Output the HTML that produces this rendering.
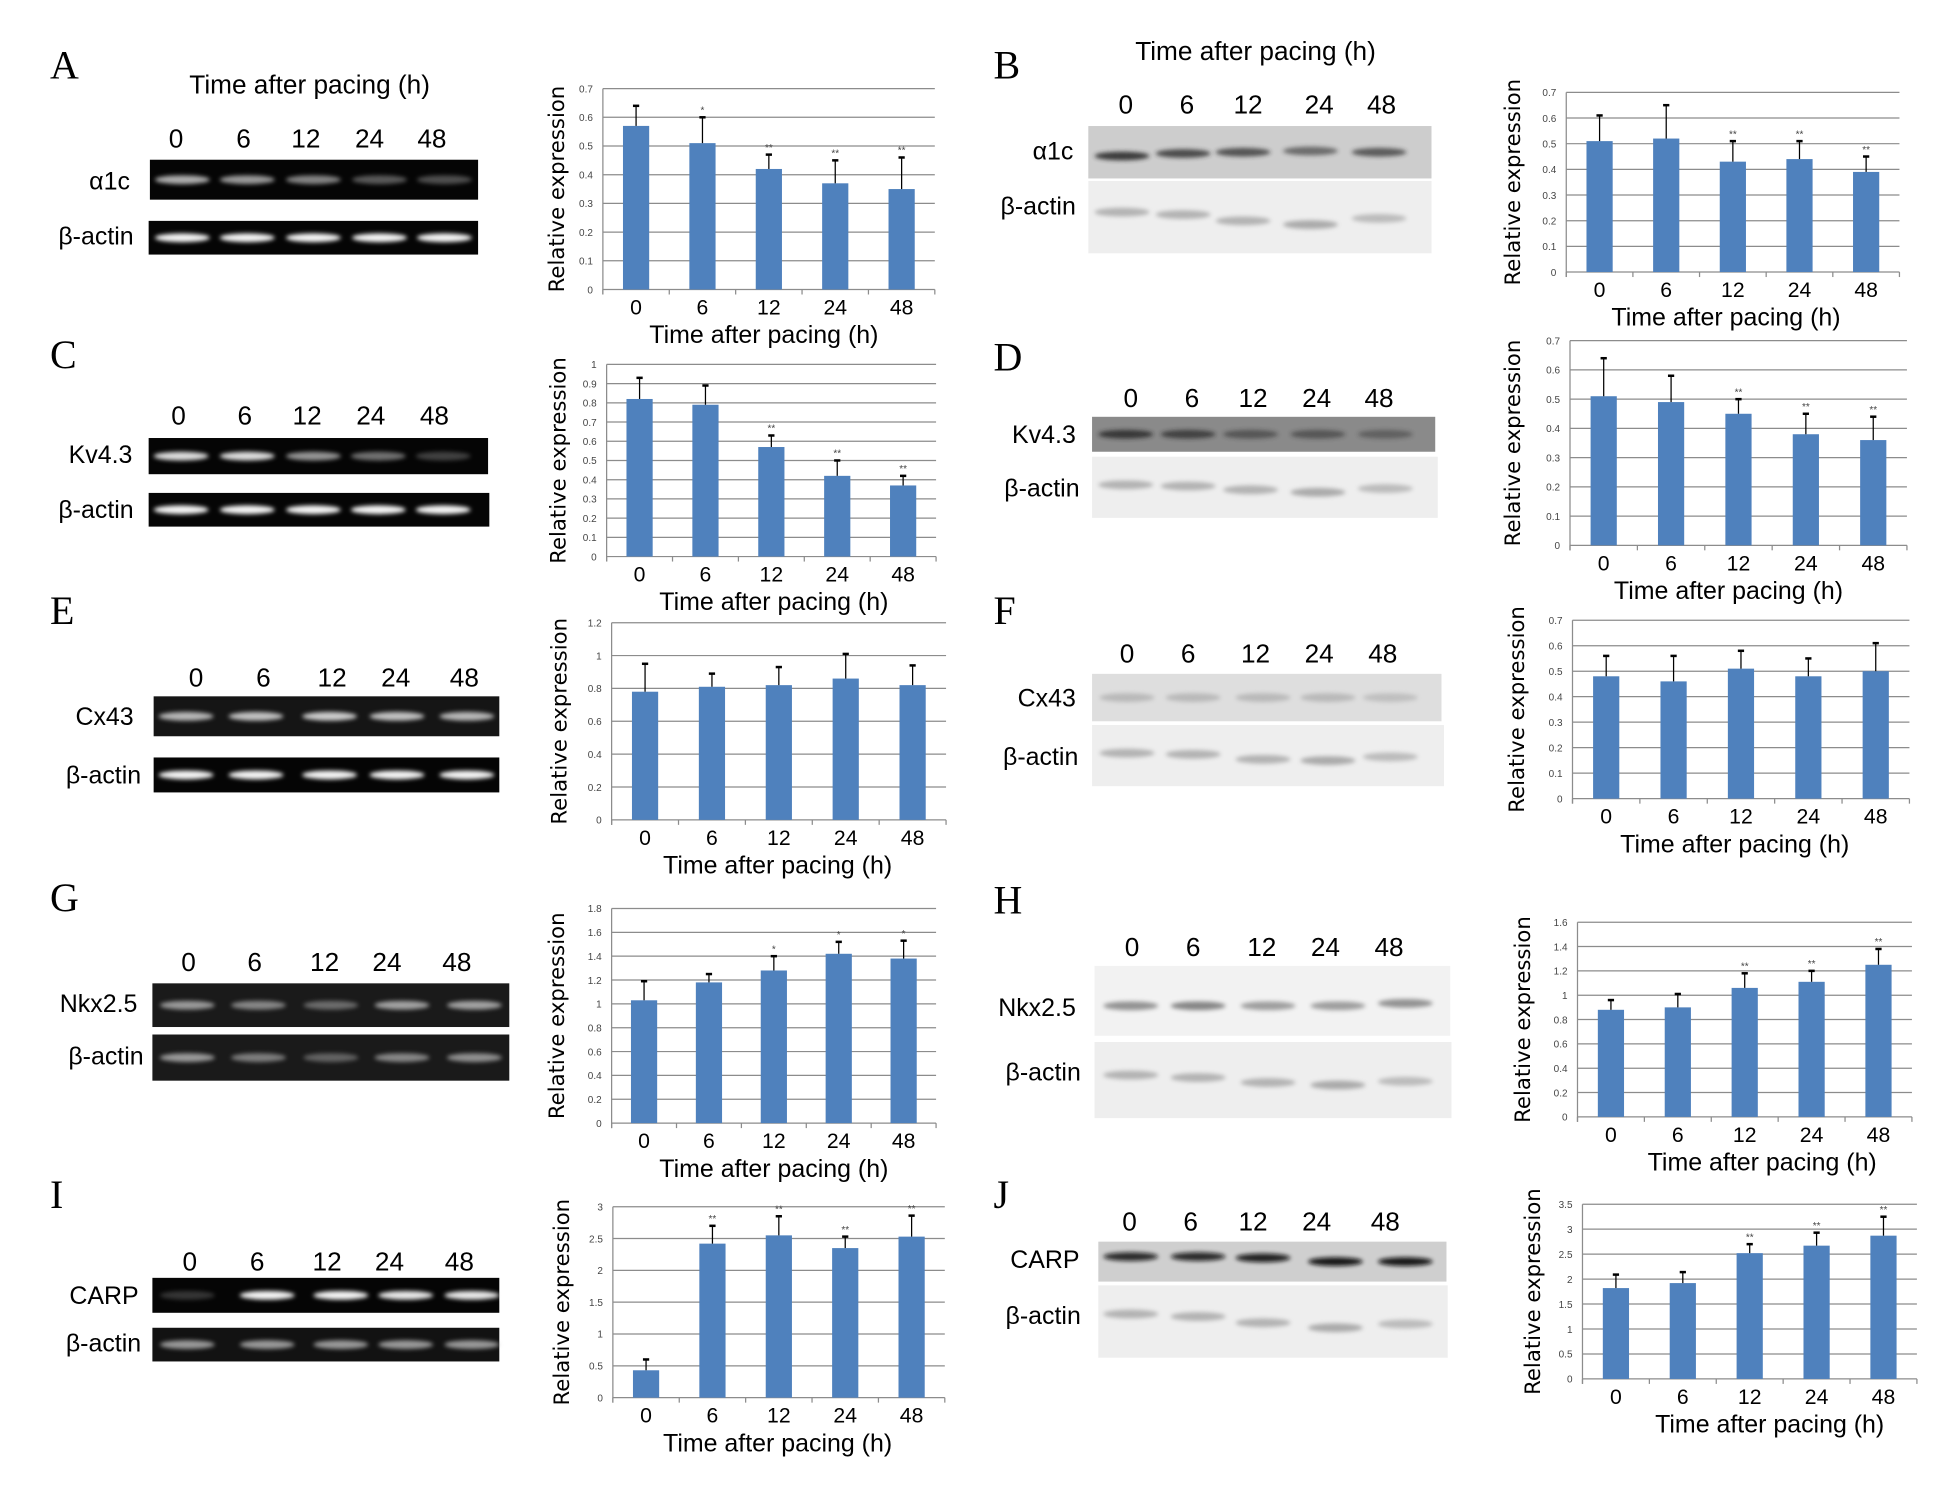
<!DOCTYPE html>
<html><head><meta charset="utf-8">
<style>
html,body{margin:0;padding:0;background:#fff;}
svg{display:block;}
.lbl{font-family:"Liberation Sans Narrow","Liberation Sans",sans-serif;fill:#000;}
.let{font-family:"Liberation Serif",serif;fill:#000;}
.tick{font-family:"Liberation Sans Narrow","Liberation Sans",sans-serif;fill:#444;font-size:8px;}
.yt{font-family:"DejaVu Sans","Liberation Sans",sans-serif;fill:#000;font-size:17px;}
</style></head>
<body>
<svg id="fig" width="1957" height="1485" viewBox="0 0 1568 1190" xmlns="http://www.w3.org/2000/svg">
<defs><filter id="blur" x="-20%" y="-50%" width="140%" height="200%"><feGaussianBlur stdDeviation="1.6"/></filter></defs>
</svg>
<script>
// ---- chart data ----
const categories = ["0","6","12","24","48"];
const valsA = [0.57,0.51,0.42,0.37,0.35];
const errA  = [0.07,0.09,0.05,0.08,0.11];
const starA = ["","*","**","**","**"];
const valsB = [0.51,0.52,0.43,0.44,0.39];
const errB  = [0.10,0.13,0.08,0.07,0.06];
const starB = ["","","**","**","**"];
const valsC = [0.82,0.79,0.57,0.42,0.37];
const errC  = [0.11,0.10,0.06,0.08,0.05];
const starC = ["","","**","**","**"];
const valsD = [0.51,0.49,0.45,0.38,0.36];
const errD  = [0.13,0.09,0.05,0.07,0.08];
const starD = ["","","**","**","**"];
const valsE = [0.78,0.81,0.82,0.86,0.82];
const errE  = [0.17,0.08,0.11,0.15,0.12];
const starE = ["","","","",""];
const valsF = [0.48,0.46,0.51,0.48,0.50];
const errF  = [0.08,0.10,0.07,0.07,0.11];
const starF = ["","","","",""];
const valsG = [1.03,1.18,1.28,1.42,1.38];
const errG  = [0.16,0.07,0.12,0.10,0.15];
const starG = ["","","*","*","*"];
const valsH = [0.88,0.90,1.06,1.11,1.25];
const errH  = [0.08,0.11,0.12,0.09,0.13];
const starH = ["","","**","**","**"];
const valsI = [0.43,2.42,2.55,2.35,2.53];
const errI  = [0.17,0.28,0.30,0.18,0.33];
const starI = ["","**","**","**","**"];
const valsJ = [1.82,1.92,2.52,2.67,2.87];
const errJ  = [0.27,0.22,0.18,0.26,0.38];
const starJ = ["","","**","**","**"];
const ticks07 = ["0","0.1","0.2","0.3","0.4","0.5","0.6","0.7"];
const ticks10 = ["0","0.1","0.2","0.3","0.4","0.5","0.6","0.7","0.8","0.9","1"];
const ticks12 = ["0","0.2","0.4","0.6","0.8","1","1.2"];
const ticks18 = ["0","0.2","0.4","0.6","0.8","1","1.2","1.4","1.6","1.8"];
const ticks16 = ["0","0.2","0.4","0.6","0.8","1","1.2","1.4","1.6"];
const ticks30 = ["0","0.5","1","1.5","2","2.5","3"];
const ticks35 = ["0","0.5","1","1.5","2","2.5","3","3.5"];

const NS="http://www.w3.org/2000/svg";
const svg=document.getElementById('fig');
function mk(tag,attrs,parent){const e=document.createElementNS(NS,tag);for(const k in attrs)e.setAttribute(k,attrs[k]);(parent||svg).appendChild(e);return e;}
function txt(s,x,y,cls,size,anchor,parent){const t=mk('text',{x:x,y:y,'class':cls,'font-size':size,'text-anchor':anchor||'middle'},parent);t.textContent=s;return t;}

function chart(id,cfg,vals,errs,stars,ticks){
  const g=mk('g',{});
  
  
  const x0=cfg.x0,x1=cfg.x1,top=cfg.top,bot=cfg.bot;
  const vmax=parseFloat(ticks[ticks.length-1]);
  const yS=v=>bot-(v/vmax)*(bot-top);
  const n=categories.length, bw=(x1-x0)/n;
  const xS=i=>x0+bw*(i+0.5)+(cfg.dx||0);
  ticks.forEach(t=>{
    const y=yS(parseFloat(t));
    const l=mk('line',{x1:x0,x2:x1,y1:y,y2:y,stroke:'#8c8c8c','stroke-width':1},g);
    
    
    const tl=txt(t,x0-8,y+3,'tick',8.5,'end',g);
    
    
  });
  mk('line',{x1:x0,x2:x0,y1:top,y2:bot+4,stroke:'#8c8c8c'},g);
  for(let i=0;i<=n;i++){mk('line',{x1:x0+bw*i,x2:x0+bw*i,y1:bot,y2:bot+4,stroke:'#8c8c8c'},g);}
  vals.forEach((v,i)=>{
    const cx=xS(i), w=cfg.bw||21;
    const r=mk('rect',{x:cx-w/2,y:yS(v),width:w,height:bot-yS(v),fill:'#4f81bd'},g);
    
    
    const ye=yS(v+errs[i]);
    const el=mk('line',{x1:cx,x2:cx,y1:yS(v),y2:ye,stroke:'#000','stroke-width':1},g);
    
    
    mk('line',{x1:cx-2.5,x2:cx+2.5,y1:ye,y2:ye,stroke:'#000','stroke-width':2},g);
    if(stars[i]){const s=txt(stars[i],cx,ye-3,'tick',9,'middle',g);
      
      }
    const xl=txt(categories[i],cx,bot+20,'lbl',17,'middle',g);
    
    
  });
  const xt=txt('Time after pacing (h)',cfg.tx,bot+43,'lbl',20,'middle',g);
  
  
  const yt=txt('Relative expression',0,0,'yt',17,'middle',g);
  yt.setAttribute('transform','translate('+cfg.yx+','+((top+bot)/2)+') rotate(-90)');
  
  
}

chart('A',{x0:483,x1:749,top:71,bot:232,tx:612,yx:452},valsA,errA,starA,ticks07);
chart('B',{x0:1255,x1:1522,top:74,bot:218,tx:1383,yx:1218},valsB,errB,starB,ticks07);
chart('C',{x0:486,x1:750,top:292,bot:446,tx:620,yx:453},valsC,errC,starC,ticks10);
chart('D',{x0:1258,x1:1528,top:273,bot:437,tx:1385,yx:1218},valsD,errD,starD,ticks07);
chart('E',{x0:490,x1:758,top:499,bot:657,tx:623,yx:454},valsE,errE,starE,ticks12);
chart('F',{x0:1260,x1:1530,top:497,bot:640,tx:1390,yx:1221},valsF,errF,starF,ticks07);
chart('G',{x0:490,x1:750,top:728,bot:900,tx:620,yx:452},valsG,errG,starG,ticks18);
chart('H',{x0:1264,x1:1532,top:739,bot:895,tx:1412,yx:1226},valsH,errH,starH,ticks16);
chart('I',{x0:491,x1:757,top:967,bot:1120,tx:623,yx:456},valsI,errI,starI,ticks30);
chart('J',{x0:1268,x1:1536,top:965,bot:1105,tx:1418,yx:1234},valsJ,errJ,starJ,ticks35);

// ---- blots ----
function blot(name,x,y,w,h,bg,band,lanesX,intens,dy){
  const g=mk('g',{});
  
  
  mk('rect',{x:x,y:y,width:w,height:h,fill:bg},g);
  lanesX.forEach((lx,i)=>{
    const e=mk('ellipse',{cx:lx,cy:y+h/2+(dy?dy[i]:0),rx:22,ry:3.5,fill:band,opacity:intens[i],filter:'url(#blur)'},g);
  });
}
function lanes(xs,y,size){xs.forEach((x,i)=>{const t=txt(categories[i],x,y,'lbl',size||21,'middle');
  
  });}
function label(s,x,y,size){const t=txt(s,x,y,'lbl',size||20,'end');
  
  }
function letter(s,x,y){const t=txt(s,x,y,'let',32,'start');
  
  }
function title(x,y){const t=txt('Time after pacing (h)',x,y,'lbl',21,'middle');
  
  }
const W='#f4f4f4', G='#555';
// A
letter('A',40,63); title(248,75); lanes([141,195,245,296,346],118);
label('α1c',104,152); blot('gel-a1c',120,128,263,32,'#050505','#d8d8d8',[146,198,251,304,356],[0.8,0.7,0.6,0.4,0.35]);
label('β-actin',107,196); blot('gel-actin-A',119,177,264,27,'#050505',W,[146,198,251,304,356],[1,1,1,1,1]);
// B
letter('B',796,63); title(1006,48); lanes([902,951,1000,1057,1107],91);
label('α1c',860,128); blot('blot-a1c',872,101,275,42,'#cdcdcd','#2a2a2a',[899,948,996,1050,1105],[0.9,0.8,0.75,0.6,0.7],[3,1,0,-1,0]);
label('β-actin',862,172); blot('blot-actin-B',872,145,275,58,'#eeeeee','#9a9a9a',[899,948,996,1050,1105],[0.7,0.7,0.7,0.8,0.6],[-4,-2,3,6,1]);
// C
letter('C',40,295); lanes([143,196,246,297,348],340);
label('Kv4.3',106,371); blot('gel-kv43',119,351,272,29,'#050505',W,[145,198,251,303,355],[0.9,0.9,0.6,0.45,0.25]);
label('β-actin',107,415); blot('gel-actin-C',119,395,273,27,'#050505',W,[145,198,251,303,355],[1,1,1,1,1]);
// D
letter('D',796,297); lanes([906,955,1004,1055,1105],326);
label('Kv4.3',862,355); blot('blot-kv43',875,334,275,28,'#8a8a8a','#222',[902,952,1002,1056,1110],[0.8,0.7,0.5,0.5,0.4]);
label('β-actin',865,398); blot('blot-actin-D',875,366,277,49,'#eeeeee','#9a9a9a',[902,952,1002,1056,1110],[0.7,0.7,0.7,0.8,0.6],[-2,-1,2,4,1]);
// E
letter('E',40,500); lanes([157,211,266,317,372],550);
label('Cx43',107,581); blot('gel-cx43',123,558,277,32,'#151515','#e0e0e0',[149,205,264,318,374],[0.8,0.85,0.9,0.85,0.8]);
label('β-actin',113,628); blot('gel-actin-E',123,607,277,28,'#050505',W,[149,205,264,318,374],[1,1,1,1,1]);
// F
letter('F',796,500); lanes([903,952,1006,1057,1108],531);
label('Cx43',862,566); blot('blot-cx43',875,540,280,38,'#dedede','#a0a0a0',[903,956,1012,1064,1114],[0.6,0.6,0.6,0.6,0.5]);
label('β-actin',864,613); blot('blot-actin-F',875,581,282,49,'#eeeeee','#9a9a9a',[903,956,1012,1064,1114],[0.7,0.7,0.7,0.8,0.6],[-2,-1,3,4,1]);
// G
letter('G',40,730); lanes([151,204,260,310,366],778);
label('Nkx2.5',110,811); blot('gel-nkx25',122,788,286,35,'#1a1a1a','#d0d0d0',[150,207,265,322,380],[0.7,0.6,0.45,0.75,0.75]);
label('β-actin',115,853); blot('gel-actin-G',122,829,286,37,'#1a1a1a','#d0d0d0',[150,207,265,322,380],[0.7,0.55,0.4,0.6,0.65]);
// H
letter('H',796,732); lanes([907,956,1011,1062,1113],766);
label('Nkx2.5',862,814); blot('blot-nkx25',877,774,285,56,'#f2f2f2','#7a7a7a',[906,960,1016,1072,1126],[0.8,0.9,0.7,0.7,0.8],[4,4,4,4,2]);
label('β-actin',866,866); blot('blot-actin-H',877,835,286,61,'#eeeeee','#9a9a9a',[906,960,1016,1072,1126],[0.7,0.7,0.7,0.8,0.6],[-4,-2,2,4,1]);
// I
letter('I',40,968); lanes([152,206,262,312,368],1018);
label('CARP',111,1045); blot('gel-carp',122,1024,278,28,'#050505',W,[150,214,273,325,378],[0.2,1,1,0.95,0.95]);
label('β-actin',113,1083); blot('gel-actin-I',122,1064,278,27,'#121212','#bbbbbb',[150,214,273,325,378],[0.8,0.8,0.8,0.8,0.8]);
// J
letter('J',796,968); lanes([905,954,1004,1055,1110],986);
label('CARP',865,1016); blot('blot-carp',880,995,279,32,'#cfcfcf','#111',[906,960,1012,1070,1126],[0.85,0.85,0.9,0.95,0.95],[-4,-4,-3,0,0]);
label('β-actin',866,1061); blot('blot-actin-J',880,1030,280,58,'#eeeeee','#9a9a9a',[906,960,1012,1070,1126],[0.7,0.7,0.7,0.8,0.6],[-6,-4,1,5,2]);
</script>
</body></html>
